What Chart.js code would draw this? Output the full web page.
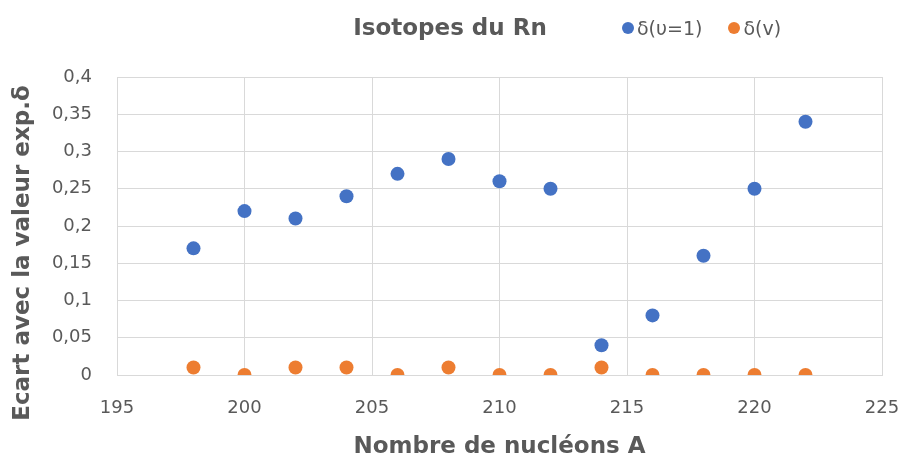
<!DOCTYPE html>
<html>
<head>
<meta charset="utf-8">
<script src="https://cdn.jsdelivr.net/npm/chart.js@4"></script>
<style>
    body { margin: 0; background: #fff; font-family: "DejaVu Sans", sans-serif; }
    #wrap { position: relative; width: 904px; height: 464px; }
    #title {
        position: absolute; left: 0; top: 13px; width: 900px; text-align: center;
        font-weight: bold; font-size: 23px; line-height: 28px; color: #595959;
    }
    #legend {
        position: absolute; left: 622px; top: 17px; display: flex; gap: 26px;
        font-size: 19px; line-height: 22px; color: #595959;
    }
    #legend span { display: flex; align-items: center; }
    #legend i { display: inline-block; width: 12px; height: 12px; border-radius: 50%; margin-right: 3px; }
</style>
</head>
<body>
<div id="wrap">
    <canvas id="chart" width="904" height="464"></canvas>
    <div id="title">Isotopes du Rn</div>
    <div id="legend"></div>
</div>
<script>
// nucleon number A for each Rn isotope
const nucleons = [198, 200, 202, 204, 206, 208, 210, 212, 214, 216, 218, 220, 222];
const deltaU1 = [0.17, 0.22, 0.21, 0.24, 0.27, 0.29, 0.26, 0.25, 0.04, 0.08, 0.16, 0.25, 0.34];
const deltaV = [0.01, 0, 0.01, 0.01, 0, 0.01, 0, 0, 0.01, 0, 0, 0, 0];
const seriesNames = ["δ(υ=1)", "δ(v)"];
const seriesColors = ["#4472C4", "#ED7D31"];
const xTitle = "Nombre de nucléons A";
const yTitle = "Ecart avec la valeur exp.δ";

const grey = "#595959";
const gridColor = "#d9d9d9";
const fontFamily = "DejaVu Sans";

function points(ys) {
    return nucleons.map((a, i) => ({ x: a, y: ys[i] }));
}

const frNum = v => String(Math.round(v * 100) / 100).replace(".", ",");

// rotated y axis title, centred a bit lower than the plot area
const yTitlePlugin = {
    id: "yTitle",
    afterDraw(chart) {
        const { ctx, chartArea } = chart;
        ctx.save();
        ctx.translate(23, (chartArea.top + chartArea.bottom) / 2 + 27);
        ctx.rotate(-Math.PI / 2);
        ctx.font = `bold 23px "${fontFamily}"`;
        ctx.fillStyle = grey;
        ctx.textAlign = "center";
        ctx.textBaseline = "middle";
        ctx.fillText(yTitle, 0, 0);
        ctx.restore();
    }
};

const chart = new Chart(document.getElementById("chart"), {
    type: "scatter",
    data: {
        datasets: [
            { label: seriesNames[0], data: points(deltaU1), backgroundColor: seriesColors[0], borderColor: seriesColors[0] },
            { label: seriesNames[1], data: points(deltaV), backgroundColor: seriesColors[1], borderColor: seriesColors[1] }
        ]
    },
    options: {
        responsive: false,
        animation: false,
        layout: { autoPadding: false, padding: { top: 77, right: 22, left: 0, bottom: 0 } },
        elements: { point: { radius: 7, hoverRadius: 7, borderWidth: 0 } },
        plugins: {
            legend: { display: false },
            title: { display: false },
            tooltip: { enabled: false }
        },
        scales: {
            x: {
                min: 195, max: 225,
                ticks: { stepSize: 5, color: grey, font: { family: fontFamily, size: 18 }, padding: 23 },
                grid: { color: gridColor, drawTicks: false },
                border: { color: gridColor },
                title: {
                    display: true, text: xTitle, color: grey,
                    font: { family: fontFamily, size: 23, weight: "bold" },
                    padding: { top: 0, bottom: 3 }
                },
                // fixed axis band; no extra room reserved for the end labels
                afterFit: s => { s.height = 89; s.paddingLeft = 0; s.paddingRight = 0; }
            },
            y: {
                min: 0, max: 0.4,
                ticks: { stepSize: 0.05, color: grey, font: { family: fontFamily, size: 18 }, padding: 25, callback: v => frNum(v) },
                grid: { color: gridColor, drawTicks: false },
                border: { color: gridColor },
                afterFit: s => { s.width = 117; }
            }
        }
    },
    plugins: [yTitlePlugin]
});

// legend built from the datasets
const legend = document.getElementById("legend");
chart.data.datasets.forEach(ds => {
    legend.innerHTML += `<span><i style="background:${ds.backgroundColor}"></i>${ds.label}</span>`;
});
</script>
</body>
</html>
